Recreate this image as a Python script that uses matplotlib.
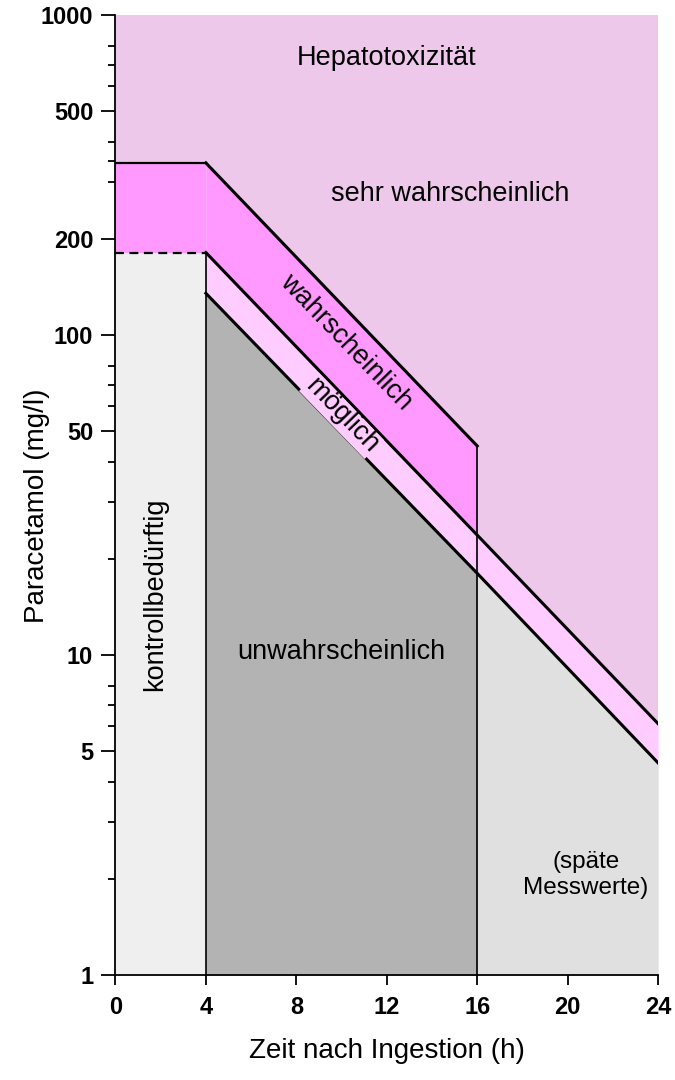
import matplotlib
matplotlib.use("Agg")
import matplotlib.pyplot as plt
from matplotlib.ticker import FixedLocator, NullFormatter

plt.rcParams["font.family"] = ["Liberation Sans", "DejaVu Sans"]

flat_x = [0, 4]
upper_level = 345          # obere Grenze bis 4 h
lower_level = 181          # gestrichelte Grenze bis 4 h

line_a_x = [4, 16]
line_a_y = [345, 45]       # wahrscheinlich / sehr wahrscheinlich
line_b_x = [4, 16, 24]
line_b_y = [181, 23.7, 6.1]  # moeglich / wahrscheinlich
line_c_x = [4, 16, 24]
line_c_y = [135, 18, 4.6]    # unwahrscheinlich / moeglich

x_ticks = [0, 4, 8, 12, 16, 20, 24]
y_major = [1, 5, 10, 50, 100, 200, 500, 1000]
y_minor = [2, 3, 4, 6, 7, 8, 20, 30, 40, 60, 70, 80, 300, 350, 400, 600, 700, 800]

c_sehr = "#edc8ea"
c_wahr = "#ff99ff"
c_mogl = "#ffccff"
c_kontr = "#efefef"
c_unw = "#b3b3b3"
c_spaet = "#e0e0e0"

fig = plt.figure(figsize=(6.75, 10.8), dpi=100)
ax = fig.add_axes([0.171, 0.0972, 0.804, 0.8889])
ax.set_yscale("log")
ax.set_xlim(0, 24)
ax.set_ylim(1, 1000)
ax.set_facecolor(c_sehr)

# Flaechen
ax.fill_between(flat_x, [1, 1], [lower_level] * 2, color=c_kontr, lw=0)
ax.fill_between(line_c_x[:2], [1, 1], line_c_y[:2], color=c_unw, lw=0)
ax.fill_between(line_c_x[1:], [1, 1], line_c_y[1:], color=c_spaet, lw=0)
ax.fill_between(line_b_x, line_c_y, line_b_y, color=c_mogl, lw=0)
ax.fill_between(flat_x, [lower_level] * 2, [upper_level] * 2, color=c_wahr, lw=0)
ax.fill_between(line_a_x, line_b_y[:2], line_a_y, color=c_wahr, lw=0)

# Linien
ax.plot(flat_x, [upper_level] * 2, color="black", lw=1.6)
ax.plot(flat_x, [lower_level] * 2, color="black", lw=1.6, ls=(0, (4, 2.5)))
ax.plot(line_a_x, line_a_y, color="black", lw=2.2)
ax.plot(line_b_x, line_b_y, color="black", lw=2.2)
ax.plot(line_c_x, line_c_y, color="black", lw=2.2)
ax.plot([4, 4], [1, lower_level], color="black", lw=1.2)
ax.plot([16, 16], [1, line_a_y[1]], color="black", lw=1.2)

# Beschriftungen
fs = 19.5
ax.text(12.0, 734, "Hepatotoxizität", ha="center", va="center", fontsize=fs)
ax.text(14.8, 275, "sehr wahrscheinlich", ha="center", va="center", fontsize=fs)
ax.text(10.2, 95, "wahrscheinlich", ha="center", va="center", fontsize=fs,
        rotation=-46, rotation_mode="anchor")
ax.text(10.0, 56, "möglich", ha="center", va="center", fontsize=fs,
        rotation=-46, rotation_mode="anchor",
        bbox=dict(facecolor=c_mogl, edgecolor="none", pad=0.3))
ax.text(1.75, 15.5, "kontrollbedürftig", ha="center", va="center", fontsize=fs,
        rotation=90)
ax.text(10.0, 10.2, "unwahrscheinlich", ha="center", va="center", fontsize=fs)
ax.text(20.8, 2.05, "(späte\nMesswerte)", ha="center", va="center", fontsize=17.5,
        linespacing=1.25)

# Achsen
for s in ["top", "right"]:
    ax.spines[s].set_visible(False)
for s in ["left", "bottom"]:
    ax.spines[s].set_linewidth(1.3)

ax.set_xticks(x_ticks)
ax.set_xticklabels([str(t) for t in x_ticks])
ax.yaxis.set_major_locator(FixedLocator(y_major))
ax.yaxis.set_minor_locator(FixedLocator(y_minor))
ax.yaxis.set_minor_formatter(NullFormatter())
ax.set_yticklabels([str(t) for t in y_major])
ax.tick_params(axis="both", which="major", labelsize=17, width=1.3)
ax.tick_params(axis="y", which="major", length=10, pad=6)
ax.tick_params(axis="y", which="minor", length=5, width=1.3)
ax.tick_params(axis="x", which="major", length=7, pad=8)
for lab in ax.get_xticklabels() + ax.get_yticklabels():
    lab.set_fontweight("bold")

ax.set_xlabel("Zeit nach Ingestion (h)", fontsize=20, labelpad=14)
ax.set_ylabel("Paracetamol (mg/l)", fontsize=20)
ax.yaxis.set_label_coords(-0.12, 0.489)

fig.savefig("out.png", dpi=100)
